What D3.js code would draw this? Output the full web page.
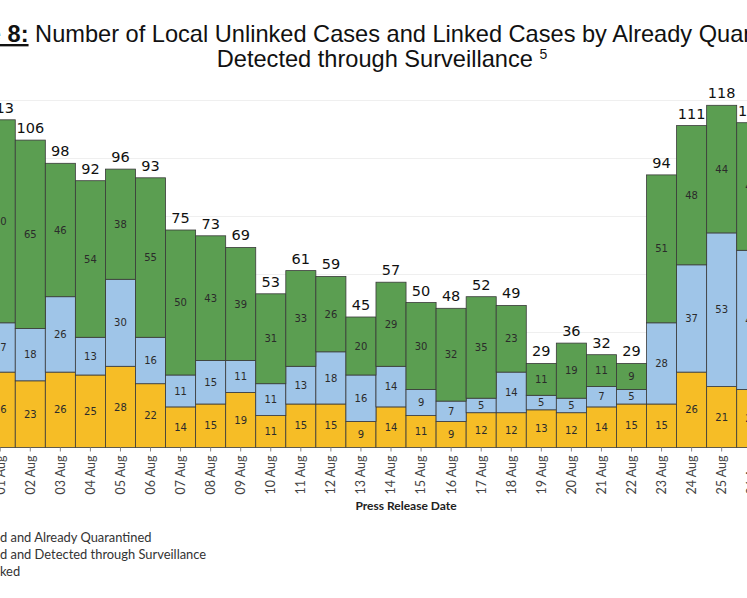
<!DOCTYPE html>
<html>
<head>
<meta charset="utf-8">
<script src="https://cdn.jsdelivr.net/npm/d3@7"></script>
<style>
  body { margin: 0; background: #fff; }
  svg { display: block; }
</style>
</head>
<body>
<div class="chart"></div>
<script>
// values, one entry per press release date
var dates = ["01 Aug", "02 Aug", "03 Aug", "04 Aug", "05 Aug", "06 Aug", "07 Aug", "08 Aug",
  "09 Aug", "10 Aug", "11 Aug", "12 Aug", "13 Aug", "14 Aug", "15 Aug", "16 Aug", "17 Aug",
  "18 Aug", "19 Aug", "20 Aug", "21 Aug", "22 Aug", "23 Aug", "24 Aug", "25 Aug", "26 Aug"];
var unlinked     = [26, 23, 26, 25, 28, 22, 14, 15, 19, 11, 15, 15, 9, 14, 11, 9, 12, 12, 13, 12, 14, 15, 15, 26, 21, 20];
var surveillance = [17, 18, 26, 13, 30, 16, 11, 15, 11, 11, 13, 18, 16, 14, 9, 7, 5, 14, 5, 5, 7, 5, 28, 37, 53, 48];
var quarantined  = [70, 65, 46, 54, 38, 55, 50, 43, 39, 31, 33, 26, 20, 29, 30, 32, 35, 23, 11, 19, 11, 9, 51, 48, 44, 44];
var yTicks = [20, 40, 60, 80, 100, 120];

var legendLabels = ["Linked and Already Quarantined", "Linked and Detected through Surveillance", "Unlinked"];

var WIDTH = 747, HEIGHT = 598;
// the picture is a crop: the plot runs past both edges of the window
var plotLeft = -14.8, bandW = 30.06, baseY = 447.5, pxPerCase = 2.9;

var table = dates.map(function (d, i) {
  return { date: d, unlinked: unlinked[i], surveillance: surveillance[i], quarantined: quarantined[i] };
});
var keys = ["unlinked", "surveillance", "quarantined"];
var colors = { unlinked: "#f6bd26", surveillance: "#9fc5e8", quarantined: "#5b9e51" };

var xScale = d3.scaleBand()
  .domain(dates)
  .range([plotLeft, plotLeft + bandW * dates.length])
  .padding(0);

var yScale = d3.scaleLinear()
  .domain([0, 120])
  .range([baseY, baseY - 120 * pxPerCase]);

var svg = d3.select(".chart").append("svg")
  .attr("width", WIDTH)
  .attr("height", HEIGHT);

// title ("Figure" itself is off the left edge)
var title = svg.append("g").attr("font-family", "'Liberation Sans', Arial, sans-serif").attr("fill", "#111");
title.append("text")
  .attr("x", 1).attr("y", 42)
  .attr("text-anchor", "end")
  .attr("font-size", 23.6)
  .attr("font-weight", "bold")
  .attr("text-decoration", "underline")
  .text("Figure");
var line1 = title.append("text")
  .attr("x", 1).attr("y", 42)
  .attr("font-size", 23.6)
  .attr("xml:space", "preserve");
line1.append("tspan")
  .attr("font-weight", "bold")
  .attr("text-decoration", "underline")
  .text(" 8:");
line1.append("tspan").text(" Number of Local Unlinked Cases and Linked Cases by Already Quarantined and");

var line2 = title.append("text")
  .attr("x", 382).attr("y", 67)
  .attr("text-anchor", "middle")
  .attr("font-size", 23.6);
line2.append("tspan").text("Detected through Surveillance ");
line2.append("tspan").attr("font-size", 14).attr("dy", -8).text("5");

// faint gridlines
svg.append("g").selectAll("line")
  .data(yTicks)
  .enter().append("line")
  .attr("x1", 0).attr("x2", WIDTH)
  .attr("y1", function (d) { return Math.round(yScale(d)) + 0.5; })
  .attr("y2", function (d) { return Math.round(yScale(d)) + 0.5; })
  .attr("stroke", "#efefef")
  .attr("stroke-width", 1);

// stacked bars
var series = d3.stack().keys(keys)(table);
var layers = svg.append("g").selectAll("g")
  .data(series)
  .enter().append("g")
  .attr("fill", function (s) { return colors[s.key]; });

layers.selectAll("rect")
  .data(function (s) { return s; })
  .enter().append("rect")
  .attr("x", function (d) { return xScale(d.data.date); })
  .attr("width", xScale.bandwidth())
  .attr("y", function (d) { return yScale(d[1]); })
  .attr("height", function (d) { return yScale(d[0]) - yScale(d[1]); })
  .attr("stroke", "#3a3a3a")
  .attr("stroke-width", 0.8);

// segment values
layers.selectAll("text")
  .data(function (s) { return s; })
  .enter().append("text")
  .attr("x", function (d) { return xScale(d.data.date) + xScale.bandwidth() / 2; })
  .attr("y", function (d) { return (yScale(d[0]) + yScale(d[1])) / 2; })
  .attr("dy", "0.36em")
  .attr("text-anchor", "middle")
  .attr("font-family", "'DejaVu Sans', Verdana, sans-serif")
  .attr("font-size", 10)
  .attr("fill", "#2b2b2b")
  .text(function (d) { return d[1] - d[0]; });

// totals on top
svg.append("g").selectAll("text")
  .data(table)
  .enter().append("text")
  .attr("x", function (d) { return xScale(d.date) + xScale.bandwidth() / 2; })
  .attr("y", function (d) { return yScale(d.unlinked + d.surveillance + d.quarantined) - 7; })
  .attr("text-anchor", "middle")
  .attr("font-family", "'DejaVu Sans', Verdana, sans-serif")
  .attr("font-size", 14.5)
  .attr("fill", "#111")
  .text(function (d) { return d.unlinked + d.surveillance + d.quarantined; });

// x axis
var xAxis = d3.axisBottom(xScale).tickSize(4).tickPadding(3);
var gx = svg.append("g")
  .attr("transform", "translate(0," + baseY + ")")
  .call(xAxis);
gx.select(".domain").remove();
gx.selectAll(".tick line").attr("stroke", "#888");
gx.selectAll(".tick text")
  .attr("font-family", "Lato, 'Open Sans', sans-serif")
  .attr("font-size", 12.5)
  .attr("fill", "#444")
  .attr("text-anchor", "end")
  .attr("transform", "rotate(-90)")
  .attr("x", -8)
  .attr("y", 0)
  .attr("dy", "0.35em");

svg.append("text")
  .attr("x", 406).attr("y", 510)
  .attr("text-anchor", "middle")
  .attr("font-family", "Lato, 'Open Sans', sans-serif")
  .attr("font-weight", "bold")
  .attr("font-size", 12)
  .attr("fill", "#222")
  .text("Press Release Date");

// legend (swatches sit off the left edge of the crop)
var legend = svg.append("g")
  .attr("font-family", "Lato, 'Open Sans', sans-serif")
  .attr("font-size", 12.9)
  .attr("fill", "#333");
var legendText = legend.selectAll("text")
  .data(legendLabels)
  .enter().append("text")
  .attr("y", function (d, i) { return 541.5 + i * 17; })
  .text(function (d) { return d; });
var legendX = -legendText.node().getSubStringLength(0, 5);
legendText.attr("x", legendX);
legend.selectAll("rect")
  .data(legendLabels)
  .enter().append("rect")
  .attr("x", legendX - 16).attr("y", function (d, i) { return 532 + i * 17; })
  .attr("width", 10).attr("height", 10)
  .attr("fill", function (d, i) { return colors[keys[2 - i]]; });
</script>
</body>
</html>
